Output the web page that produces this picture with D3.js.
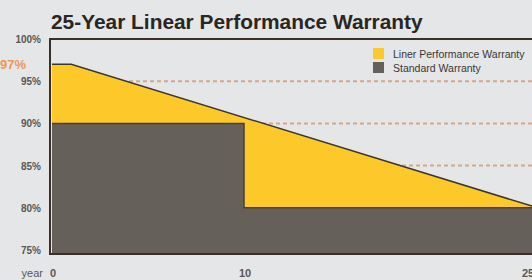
<!DOCTYPE html>
<html>
<head>
<meta charset="utf-8">
<script src="https://cdn.jsdelivr.net/npm/d3@7"></script>
<style>
  body { margin: 0; background: #e5e6e8; }
  svg { display: block; font-family: "Liberation Sans", Arial, sans-serif; }
</style>
</head>
<body>
<svg id="chart"></svg>
<script>
const width = 532
const height = 280

// data
const years = [0, 1, 25]
const linearWarranty = [97, 97, 80.2]
const standardYears = [0, 10, 10, 25]
const standardWarranty = [90, 90, 80, 80]
const yTicks = [100, 95, 90, 85, 80, 75]
const xTicks = [0, 10, 25]
const gridLevels = [95, 90, 85]
const legendItems = ["Liner Performance Warranty", "Standard Warranty"]
const legendColors = ["#fdc92a", "#66605a"]

const svg = d3.select('#chart')
  .attr('width', width)
  .attr('height', height)

const plotBottom = 254

var x = d3.scaleLinear().domain([0, 25]).range([52, 532])
var y = d3.scaleLinear().domain([75, 100]).range([250, 39])

// title, sized to span ~372px
var title = svg.append('text')
  .attr('x', 51)
  .attr('y', 29)
  .style('font-size', '20px')
  .style('font-weight', 'bold')
  .style('fill', '#2a2622')
  .text('25-Year Linear Performance Warranty')
var tw = title.node().getComputedTextLength()
title.style('font-size', (20 * 372 / tw) + 'px')

// dashed grid lines (behind areas)
svg.append('g')
  .selectAll('line')
  .data(gridLevels)
  .enter().append('line')
  .attr('x1', x(0))
  .attr('x2', width)
  .attr('y1', d => y(d))
  .attr('y2', d => y(d))
  .style('stroke', '#d6a88a')
  .style('stroke-width', 2)
  .style('stroke-dasharray', '4,3')

var linPts = years.map((d, i) => [d, linearWarranty[i]])
var stdPts = standardYears.map((d, i) => [d, standardWarranty[i]])

var area = d3.area()
  .x(d => x(d[0]))
  .y0(plotBottom)
  .y1(d => y(d[1]))

var line = d3.line()
  .x(d => x(d[0]))
  .y(d => y(d[1]))

svg.append('path')
  .attr('d', area(linPts))
  .style('fill', legendColors[0])

svg.append('path')
  .attr('d', line(linPts))
  .style('fill', 'none')
  .style('stroke', '#3b3632')
  .style('stroke-width', 1.5)

svg.append('path')
  .attr('d', area(stdPts))
  .style('fill', legendColors[1])

svg.append('path')
  .attr('d', line(stdPts))
  .style('fill', 'none')
  .style('stroke', '#4a3f38')
  .style('stroke-width', 1.5)

// frame
svg.append('path')
  .attr('d', 'M' + width + ',' + y(100) + 'H' + (x(0) - 2) + 'V' + plotBottom + 'H' + width)
  .style('fill', 'none')
  .style('stroke', '#3a3028')
  .style('stroke-width', 2)

// y labels
svg.append('g')
  .selectAll('text')
  .data(yTicks)
  .enter().append('text')
  .attr('x', 41)
  .attr('y', d => y(d) + 4)
  .attr('text-anchor', 'end')
  .style('font-size', '10px')
  .style('font-weight', 'bold')
  .style('fill', '#5a5652')
  .text(d => d + '%')

svg.append('text')
  .attr('x', 0)
  .attr('y', y(97) + 5)
  .style('font-size', '13px')
  .style('font-weight', 'bold')
  .style('fill', '#f0965a')
  .text('97%')

// x labels
svg.append('text')
  .attr('x', 43)
  .attr('y', 277)
  .attr('text-anchor', 'end')
  .style('font-size', '11px')
  .style('fill', '#5a5652')
  .text('year')

svg.append('g')
  .selectAll('text')
  .data(xTicks)
  .enter().append('text')
  .attr('x', d => d === 25 ? x(d) - 4 : x(d) + 1)
  .attr('y', 277)
  .attr('text-anchor', 'middle')
  .style('font-size', '11px')
  .style('font-weight', 'bold')
  .style('fill', '#5a5652')
  .text(d => d)

// legend
var legend = svg.append('g')
  .selectAll('g')
  .data(legendItems)
  .enter().append('g')
  .attr('transform', (d, i) => 'translate(373,' + (48 + i * 14) + ')')

legend.append('rect')
  .attr('width', 11)
  .attr('height', 11)
  .style('fill', (d, i) => legendColors[i])

legend.append('text')
  .attr('x', 20)
  .attr('y', 9.5)
  .style('font-size', '10.5px')
  .style('fill', '#3a3632')
  .text(d => d)
</script>
</body>
</html>
